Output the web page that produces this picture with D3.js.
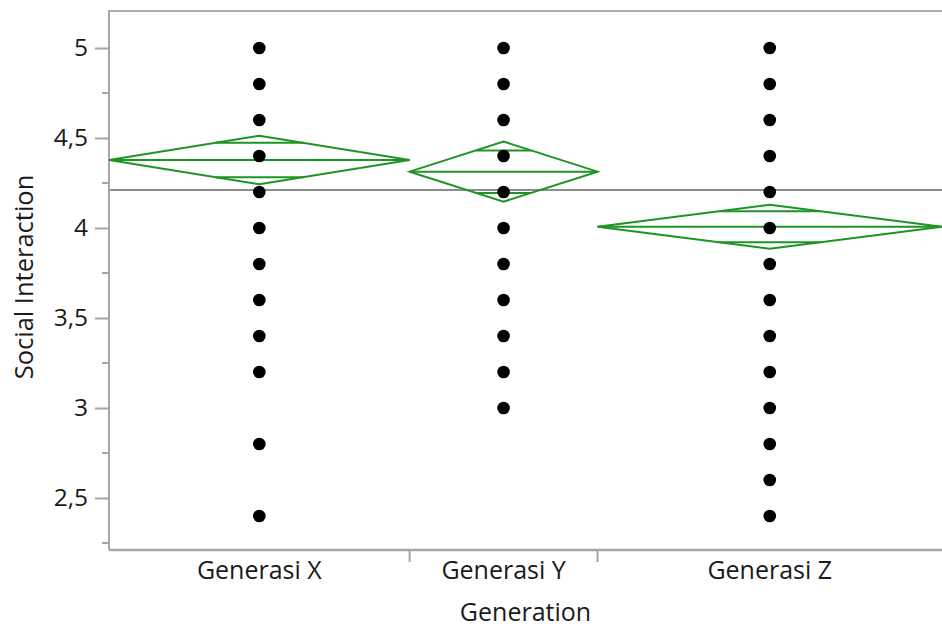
<!DOCTYPE html>
<html>
<head>
<meta charset="utf-8">
<script src="https://cdn.jsdelivr.net/npm/d3@7"></script>
<style>
  html, body { margin: 0; padding: 0; background: #fff; }
  svg { display: block; }
  text { font-family: "Open Sans", "Noto Sans", sans-serif; fill: #1a1a1a; }
</style>
</head>
<body>
<svg id="chart" width="942" height="628"></svg>
<script>
// ---- data ----
const groups = ["Generasi X", "Generasi Y", "Generasi Z"];
const groupN = [48, 30, 55];                 // sample sizes (set the band widths)
const valuesX = [5, 4.8, 4.6, 4.4, 4.2, 4.0, 3.8, 3.6, 3.4, 3.2, 2.8, 2.4];
const valuesY = [5, 4.8, 4.6, 4.4, 4.2, 4.0, 3.8, 3.6, 3.4, 3.2, 3.0];
const valuesZ = [5, 4.8, 4.6, 4.4, 4.2, 4.0, 3.8, 3.6, 3.4, 3.2, 3.0, 2.8, 2.6, 2.4];
const groupMeans = [4.378, 4.313, 4.007];
const groupCI = [0.135, 0.167, 0.122];       // 95% CI half-width
const grandMean = 4.211;
const yTicks = [2.5, 3, 3.5, 4, 4.5, 5];
const yTickLabels = ["2,5", "3", "3,5", "4", "4,5", "5"];
const yMinorTicks = [2.25, 2.75, 3.25, 3.75, 4.25, 4.75];
const yTitle = "Social Interaction";
const xTitle = "Generation";

const groupValues = [valuesX, valuesY, valuesZ];

// ---- layout ----
const pLeft = 109, pRight = 942, pTop = 11, pBottom = 550;
const svg = d3.select("#chart");

const y = d3.scaleLinear().domain([2.5, 5]).range([498, 48]);
const cum = [0];
groupN.forEach((n, i) => cum.push(cum[i] + n));
const x = d3.scaleLinear().domain([0, cum[cum.length - 1]]).range([pLeft, pRight]);

const green = "#1f9426";
const frameColor = "#a6a6a6";

// frame
svg.append("line").attr("x1", pLeft).attr("x2", pRight + 5).attr("y1", pTop).attr("y2", pTop)
  .attr("stroke", "#b0b0b0").attr("stroke-width", 2);

// grand mean line
svg.append("line").attr("x1", pLeft).attr("x2", pRight + 5)
  .attr("y1", y(grandMean)).attr("y2", y(grandMean))
  .attr("stroke", "#8c8c8c").attr("stroke-width", 2);

// y axis
const yAxisG = svg.append("g").attr("transform", `translate(${pLeft},0)`);
yAxisG.call(d3.axisLeft(y).tickValues(yTicks).tickSize(14)
  .tickFormat((d, i) => yTickLabels[i]));
yAxisG.select(".domain").remove();
yAxisG.selectAll(".tick line").attr("stroke", frameColor).attr("stroke-width", 2);
yAxisG.selectAll(".tick text")
  .attr("x", -21).attr("font-size", 24.5).attr("font-family", null).attr("fill", "#1a1a1a");
yAxisG.selectAll(".minor").data(yMinorTicks).enter().append("line")
  .attr("class", "minor")
  .attr("x1", -7).attr("x2", 0)
  .attr("y1", d => y(d)).attr("y2", d => y(d))
  .attr("stroke", frameColor).attr("stroke-width", 2);
svg.append("line").attr("x1", pLeft).attr("x2", pLeft).attr("y1", pTop - 1).attr("y2", pBottom)
  .attr("stroke", frameColor).attr("stroke-width", 2);

// x axis
svg.append("line").attr("x1", pLeft).attr("x2", pRight + 5).attr("y1", pBottom).attr("y2", pBottom)
  .attr("stroke", frameColor).attr("stroke-width", 2.5);
const seps = cum.slice(1, cum.length - 1);
svg.selectAll(".sep").data(seps).enter().append("line")
  .attr("x1", d => x(d)).attr("x2", d => x(d))
  .attr("y1", pBottom).attr("y2", pBottom + 12)
  .attr("stroke", frameColor).attr("stroke-width", 2);

svg.selectAll(".xlab").data(groups).enter().append("text")
  .attr("x", (d, i) => x((cum[i] + cum[i + 1]) / 2))
  .attr("y", 579)
  .attr("text-anchor", "middle")
  .attr("font-size", 25)
  .text(d => d);

// titles
svg.append("text").attr("x", (pLeft + pRight) / 2).attr("y", 621).attr("text-anchor", "middle")
  .attr("font-size", 25).text(xTitle);
svg.append("text").attr("transform", "translate(33,277) rotate(-90)")
  .attr("text-anchor", "middle").attr("font-size", 25.5).text(yTitle);

// diamonds
groups.forEach((g, i) => {
  const x0 = x(cum[i]), x1 = x(cum[i + 1]), xc = (x0 + x1) / 2;
  const m = groupMeans[i], ci = groupCI[i];
  const gG = svg.append("g");
  const pts = [[x0, y(m)], [xc, y(m + ci)], [x1, y(m)], [xc, y(m - ci)]];
  gG.append("path").attr("d", d3.line()(pts) + "Z")
    .attr("fill", "none").attr("stroke", green).attr("stroke-width", 2);
  gG.append("line").attr("x1", x0).attr("x2", x1).attr("y1", y(m)).attr("y2", y(m))
    .attr("stroke", green).attr("stroke-width", 2);
  const ov = ci / Math.SQRT2;
  const hw = (x1 - x0) / 2 * (1 - 1 / Math.SQRT2);
  [m + ov, m - ov].forEach(v => {
    gG.append("line").attr("x1", xc - hw).attr("x2", xc + hw)
      .attr("y1", y(v)).attr("y2", y(v))
      .attr("stroke", green).attr("stroke-width", 2);
  });
});

// points
groups.forEach((g, i) => {
  const xc = x((cum[i] + cum[i + 1]) / 2);
  svg.selectAll(".pt" + i).data(groupValues[i]).enter().append("circle")
    .attr("cx", xc).attr("cy", d => y(d)).attr("r", 6.3).attr("fill", "#000");
});
</script>
</body>
</html>
